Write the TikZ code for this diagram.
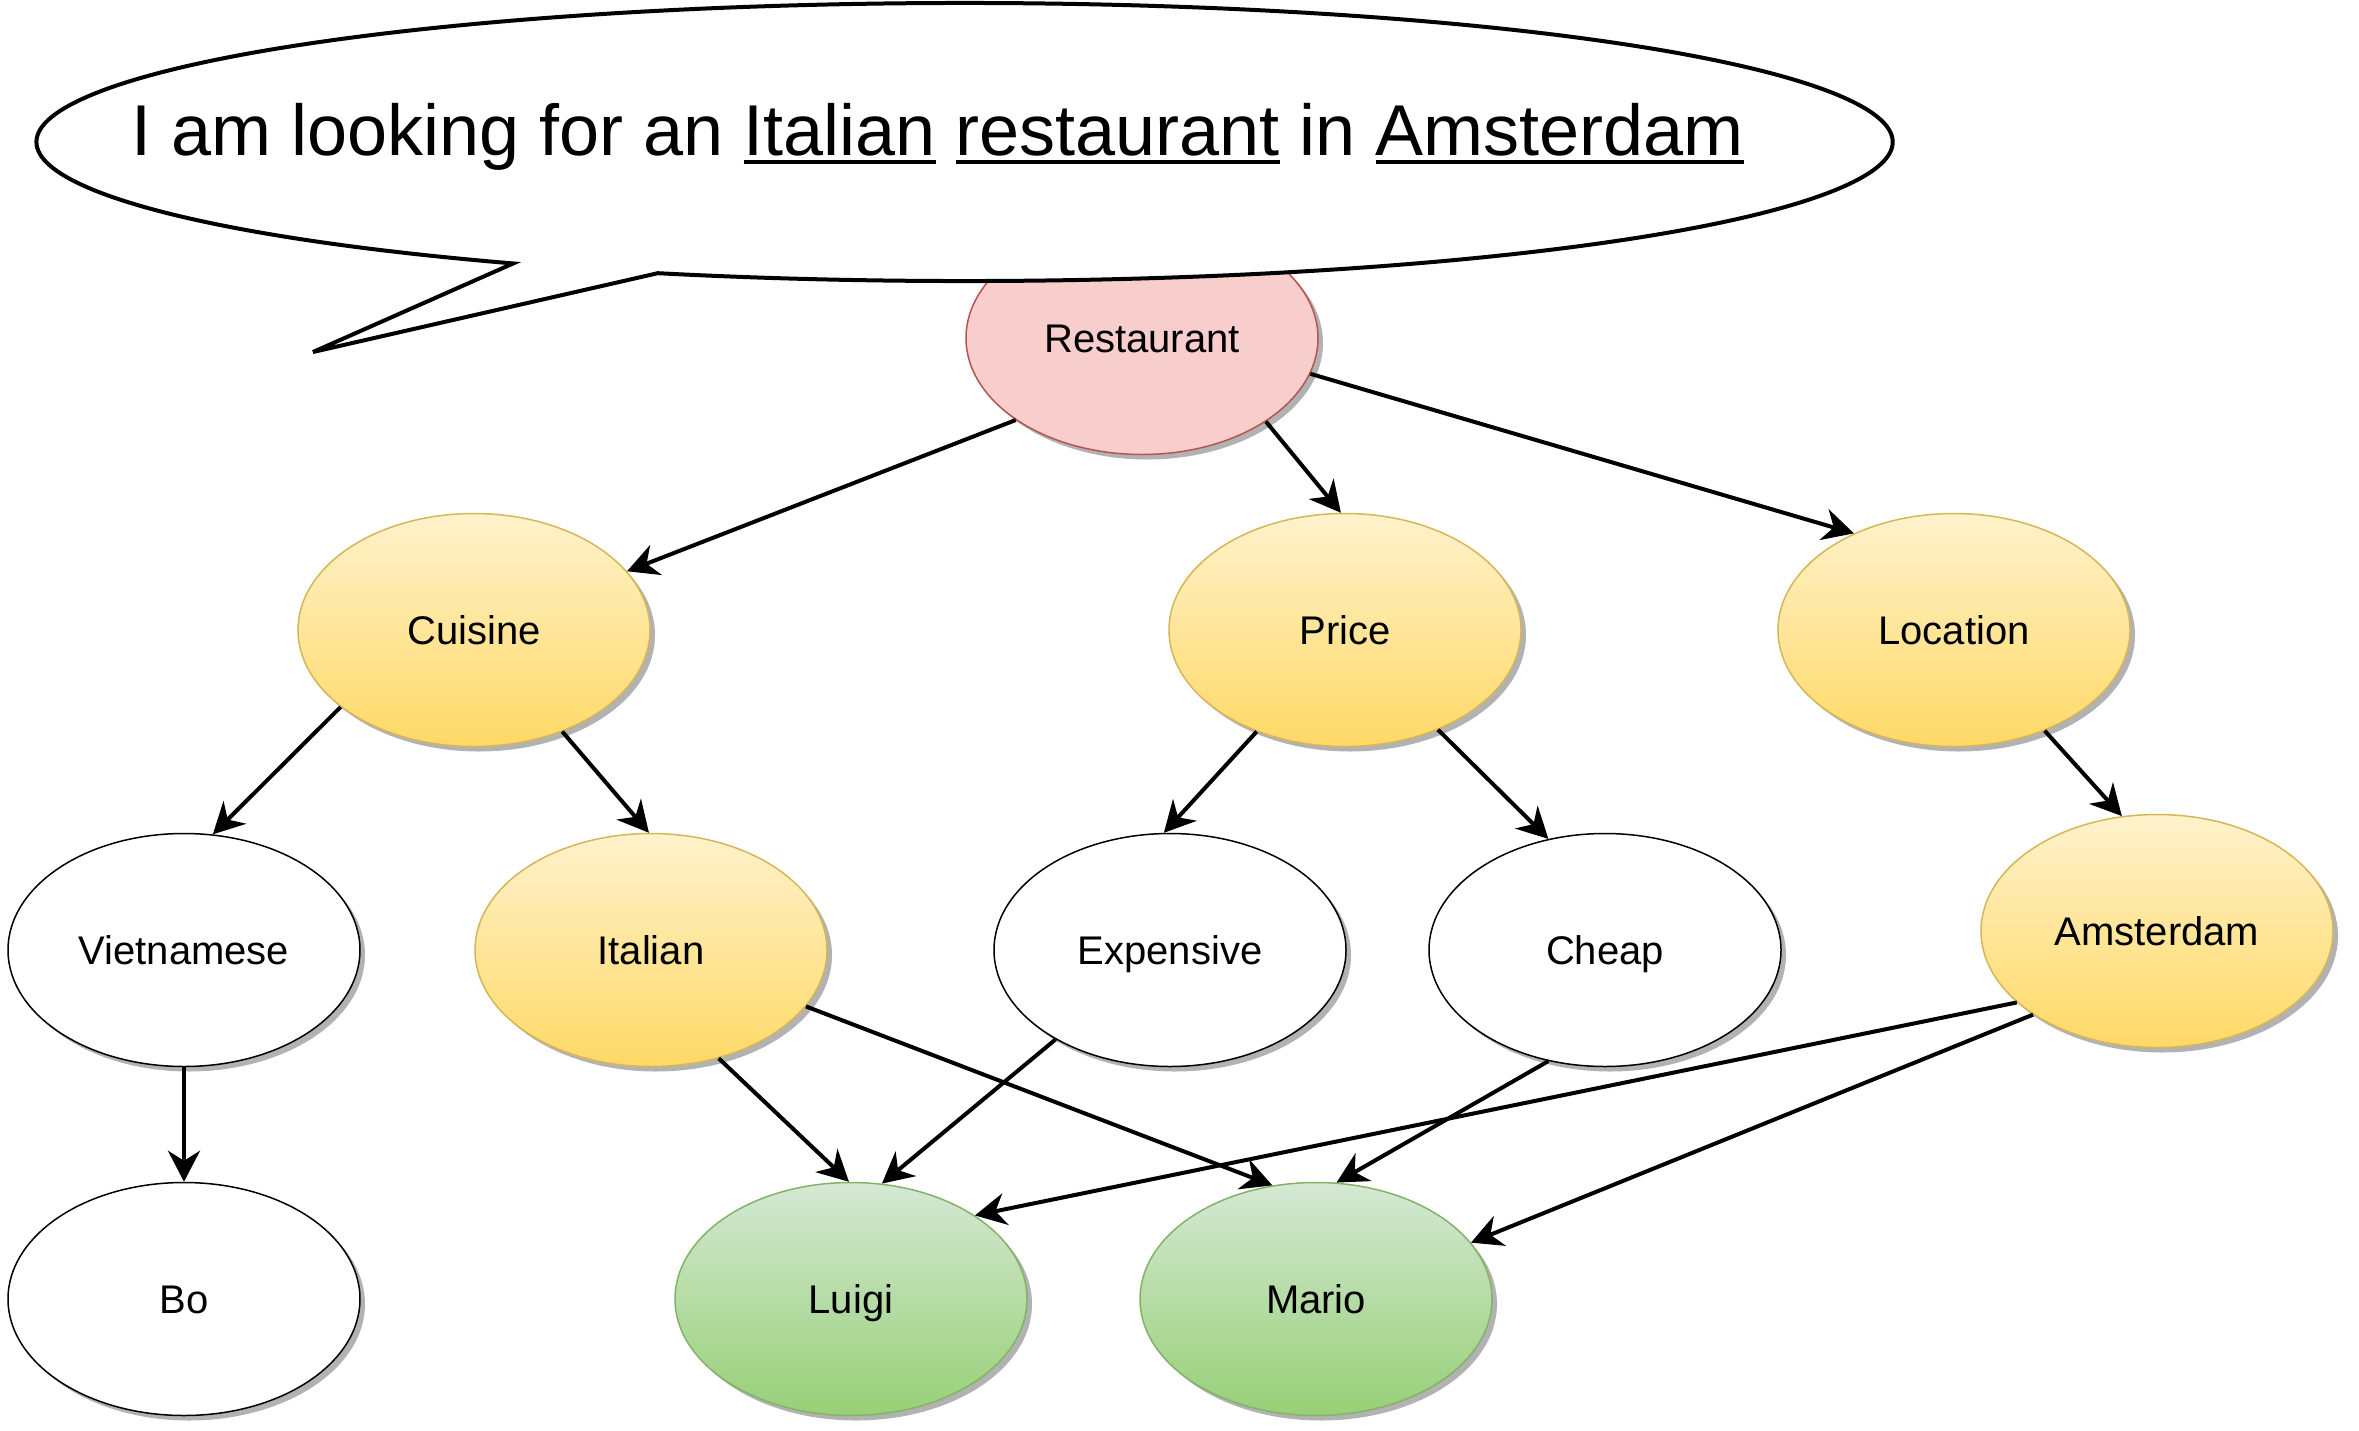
\documentclass[tikz,border=0pt]{standalone}
\usepackage{fontspec}
\setmainfont{Liberation Sans}
\usetikzlibrary{shapes.geometric,arrows.meta,shadows}
\definecolor{ytop}{HTML}{FFF2CC}
\definecolor{ybot}{HTML}{FFD966}
\definecolor{ybord}{HTML}{D6B656}
\definecolor{gtop}{HTML}{D5E8D4}
\definecolor{gbot}{HTML}{97D077}
\definecolor{gbord}{HTML}{82B366}
\definecolor{rfill}{HTML}{F8CECC}
\definecolor{rbord}{HTML}{B85450}
\newcommand\myul[1]{\leavevmode\setbox0=\hbox{#1}\rlap{\rule[-9pt]{\wd0}{4pt}}\box0\relax}
\tikzset{
  basenode/.style={ellipse, minimum width=352pt, minimum height=233pt, inner sep=0pt,
    font=\fontsize{40}{48}\selectfont, text height=28.6pt, text depth=0pt, line width=1.5pt,
    drop shadow={shadow xshift=5pt, shadow yshift=-5pt, opacity=0.3, fill=black}},
  wnode/.style={basenode, draw=black, fill=white},
  ynode/.style={basenode, draw=ybord, top color=ytop, bottom color=ybot},
  gnode/.style={basenode, draw=gbord, top color=gtop, bottom color=gbot},
  rnode/.style={basenode, draw=rbord, fill=rfill},
  conn/.style={line width=4pt, -{Stealth[length=31pt, width=32pt, inset=10pt]}},
  bubble/.style={draw=black, fill=white, line width=4pt, line join=miter}
}
\begin{document}
\begin{tikzpicture}[x=1pt, y=-1pt]
\useasboundingbox (0,0) rectangle (2359,1430);
% nodes
\node[rnode] (R) at (1142,338) {Restaurant};
\node[ynode] (Cu) at (474,630) {Cuisine};
\node[ynode] (P) at (1345,630) {Price};
\node[ynode] (L) at (1954,630) {Location};
\node[wnode] (V) at (184,950) {Vietnamese};
\node[ynode] (I) at (651,950) {Italian};
\node[wnode] (E) at (1170,950) {Expensive};
\node[wnode] (Ch) at (1605,950) {Cheap};
\node[ynode] (A) at (2157,931) {Amsterdam};
\node[wnode] (B) at (184,1299) {Bo};
\node[gnode] (Lu) at (851,1299) {Luigi};
\node[gnode] (M) at (1316,1299) {Mario};
% connectors
\draw[conn] (R.213.6) -- (Cu.21.9);
\draw[conn] (R.-34.9) -- (P.92);
\draw[conn] (R.-12.5) -- (L.136);
\draw[conn] (Cu.210.8) -- (V.76.4);
\draw[conn] (Cu.-49.6) -- (I.91.5);
\draw[conn] (P.229.8) -- (E.93.3);
\draw[conn] (P.-47.3) -- (Ch.117.3);
\draw[conn] (L.-48) -- (A.107);
\draw[conn] (V.south) -- (B.north);
\draw[conn] (I.-58.4) -- (Lu.91.5);
\draw[conn] (I.-20.7) -- (M.111.5);
\draw[conn] (E.218.3) -- (Lu.75.3);
\draw[conn] (Ch.243.6) -- (M.80.6);
\draw[conn] (A.207.7) -- (Lu.34.4);
\draw[conn] (A.214) -- (M.20);
% speech bubble
\coordinate (bc) at (964.5,142);
\coordinate (tip) at (313,352);
\draw[bubble] (bc) ++(109.3:928 and 139)
  arc[start angle=109.3, end angle=-240.9, x radius=928, y radius=139]
  -- (tip) -- cycle;
\node[anchor=base west, inner sep=0pt, font=\fontsize{72}{86}\selectfont] (quote) at (131,155)
  {I am looking for an \myul{Italian} \myul{restaurant} in \myul{Amsterdam}};
\end{tikzpicture}
\end{document}
